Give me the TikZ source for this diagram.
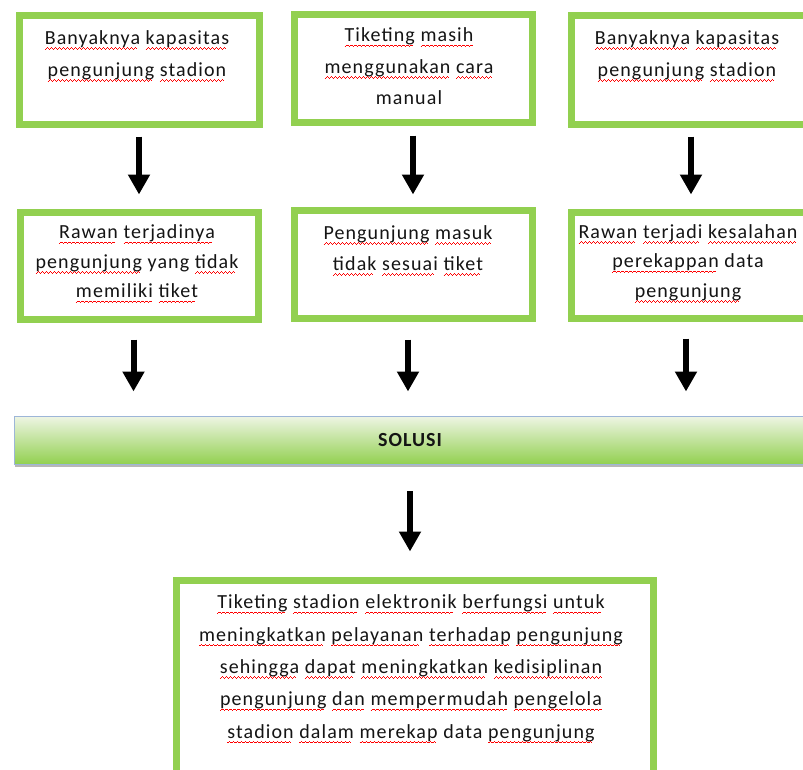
\documentclass[tikz,border=0pt]{standalone}
\usepackage{fontspec}
\setmainfont{Carlito}
\newfontfamily\bodyfont[LetterSpace=5.5]{Carlito}
\newfontfamily\solfont[LetterSpace=5]{Carlito}
\usetikzlibrary{arrows.meta,shadows}
\definecolor{boxgreen}{HTML}{92D050}
\definecolor{bartop}{HTML}{EEF5E4}
\definecolor{barbot}{HTML}{92D050}
\definecolor{barline}{HTML}{9DB6D8}
\definecolor{txt}{HTML}{141414}
\definecolor{wavered}{HTML}{FF0000}
\newsavebox\sqbox
\newcommand\wvseg{\hbox{{\color{wavered}\rule{1pt}{0.75pt}\raise0.75pt\hbox{\rule{1pt}{0.75pt}}\raise1.5pt\hbox{\rule{1pt}{0.75pt}}\raise0.75pt\hbox{\rule{1pt}{0.75pt}}}}}
\newcommand\sq[1]{\leavevmode\sbox\sqbox{#1}\usebox\sqbox\llap{\lower5pt\hbox to \wd\sqbox{\leaders\wvseg\hfill}}}
\tikzset{
  gbox/.style={draw=boxgreen, line width=7pt, fill=white, anchor=north west, inner sep=0pt},
  btxt/.style={align=center, text=txt, inner sep=0pt},
  arr/.style={draw=black, line width=6pt, -{Triangle[width=21pt,length=20pt]}},
  bar/.style={draw=barline, line width=1.5pt, top color=bartop, bottom color=barbot, anchor=north west, inner sep=0pt,
    drop shadow={shadow xshift=1pt, shadow yshift=-3pt, fill=black!35, opacity=0.8}}
}
\begin{document}
\begin{tikzpicture}[x=1pt,y=-1pt]
\clip (0,0) rectangle (803,769);
\fill[white] (0,0) rectangle (803,769);
% row 1 boxes
\node[gbox, minimum width=240pt, minimum height=109pt] (b1) at (15.5,11.5) {};
\node[gbox, minimum width=238pt, minimum height=108pt] (b2) at (290.5,10.5) {};
\node[gbox, minimum width=242pt, minimum height=109pt] (b3) at (567.5,11.5) {};
% row 2 boxes
\node[gbox, minimum width=238pt, minimum height=107pt] (b4) at (16.5,208.5) {};
\node[gbox, minimum width=238pt, minimum height=108pt] (b5) at (290.5,206.5) {};
\node[gbox, minimum width=242pt, minimum height=106pt] (b6) at (567.5,208.5) {};
% solution bar
\node[bar, minimum width=800pt, minimum height=48pt] (bar) at (13.5,415.5) {};
\node[font=\solfont\fontsize{20}{24}\selectfont\bfseries, text=txt] (sol) at (410,440) {SOLUSI};
% bottom box
\node[gbox, minimum width=477pt, minimum height=240pt] (b7) at (172.5,576.5) {};
% texts
\node[btxt, font=\bodyfont\fontsize{20}{32}\selectfont] (t1) at (137,56) {\sq{Banyaknya} \sq{kapasitas}\\\sq{pengunjung} \sq{stadion}};
\node[btxt, font=\bodyfont\fontsize{20}{31.5}\selectfont] (t2) at (409,66.5) {\sq{Tiketing} \sq{masih}\\\sq{menggunakan} \sq{cara}\\manual};
\node[btxt, font=\bodyfont\fontsize{20}{32}\selectfont] (t3) at (687,56) {\sq{Banyaknya} \sq{kapasitas}\\\sq{pengunjung} \sq{stadion}};
\node[btxt, font=\bodyfont\fontsize{20}{29.5}\selectfont] (t4) at (137,264) {\sq{Rawan} \sq{terjadinya}\\\sq{pengunjung} yang \sq{tidak}\\\sq{memiliki} \sq{tiket}};
\node[btxt, font=\bodyfont\fontsize{20}{31}\selectfont] (t5) at (408,250.5) {\sq{Pengunjung} \sq{masuk}\\\sq{tidak} \sq{sesuai} \sq{tiket}};
\node[btxt, font=\bodyfont\fontsize{20}{29.5}\selectfont] (t6) at (688,263.5) {\sq{Rawan} \sq{terjadi} \sq{kesalahan}\\\sq{perekappan} data\\\sq{pengunjung}};
\node[btxt, font=\bodyfont\fontsize{20}{32.3}\selectfont] (t7) at (411,669) {\sq{Tiketing} \sq{stadion} \sq{elektronik} \sq{berfungsi} \sq{untuk}\\\sq{meningkatkan} \sq{pelayanan} \sq{terhadap} \sq{pengunjung}\\\sq{sehingga} \sq{dapat} \sq{meningkatkan} \sq{kedisiplinan}\\\sq{pengunjung} \sq{dan} \sq{mempermudah} \sq{pengelola}\\\sq{stadion} \sq{dalam} \sq{merekap} data \sq{pengunjung}};
% arrows row 1
\draw[arr, shorten <=9pt, shorten >=14pt] (b1.south) -- (b1.south |- b4.north);
\draw[arr, shorten <=10pt, shorten >=12pt] (b2.south) -- (b5.north);
\draw[arr, shorten <=9pt, shorten >=14pt] ([xshift=-1pt]b3.south) -- ([xshift=-1pt]b3.south |- b6.north);
% arrows row 2
\draw[arr, shorten <=17pt, shorten >=24pt] ([xshift=-5.5pt]b4.south) -- ([xshift=-5.5pt]b4.south |- bar.north);
\draw[arr, shorten <=18pt, shorten >=24pt] ([xshift=-5pt]b5.south) -- ([xshift=-5pt]b5.south |- bar.north);
\draw[arr, shorten <=17pt, shorten >=24pt] ([xshift=-6pt]b6.south) -- ([xshift=-6pt]b6.south |- bar.north);
% arrow to solution
\draw[arr, shorten <=26pt, shorten >=25pt] (sol.south |- bar.south) -- (sol.south |- b7.north);
\end{tikzpicture}
\end{document}
